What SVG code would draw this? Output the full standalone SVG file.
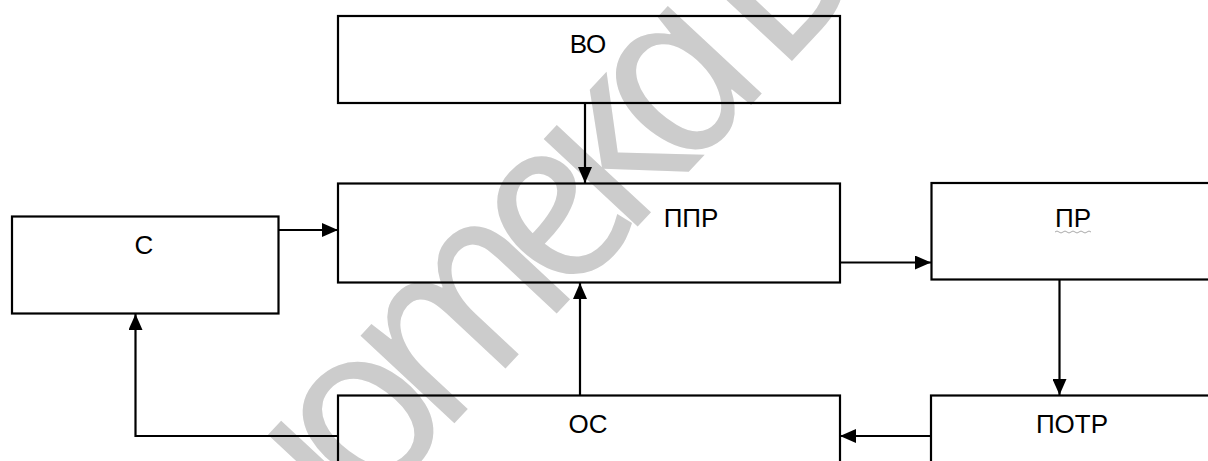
<svg xmlns="http://www.w3.org/2000/svg" width="1208" height="461" viewBox="0 0 1208 461">
  <style>
    .box { fill: none; stroke: #000; stroke-width: 2.2; }
    .lbl { font-family: "Liberation Sans", Arial, sans-serif; font-size: 26px; fill: #000; text-anchor: middle; }
    .edge { fill: none; stroke: #000; stroke-width: 2.2; }
    .wm { font-family: "Open Sans", "Liberation Sans", sans-serif; font-size: 240px; font-weight: 500; font-style: italic; letter-spacing: -30px; fill: #cccccc; }
  </style>
  <defs>
    <marker id="arrow" markerUnits="userSpaceOnUse" markerWidth="16" markerHeight="14" refX="16" refY="7" orient="auto">
      <path d="M0,0 L16,7 L0,14 z" fill="#000"/>
    </marker>
  </defs>

  <rect width="1208" height="461" fill="#fff"/>

  <!-- background watermark, italic letterforms set upright -->
  <g id="watermark" transform="translate(378,505) rotate(-47) skewX(12)">
    <text class="wm" x="0" y="0" text-anchor="end">Библи</text>
    <text class="wm" x="0" y="0">отека БГУИР</text>
  </g>

  <g id="node-vo">
    <rect class="box" x="338" y="16" width="502" height="87"/>
    <text class="lbl" x="588" y="53">ВО</text>
  </g>
  <g id="node-ppr">
    <rect class="box" x="338" y="183.5" width="502" height="99"/>
    <text class="lbl" x="691" y="227">ППР</text>
  </g>
  <g id="node-pr">
    <rect class="box" x="931.5" y="183" width="400" height="96.5"/>
    <text class="lbl" x="1073" y="227">ПР</text>
    <path d="M1055,232 q2,-2 4,0 t4,0 t4,0 t4,0 t4,0 t4,0 t4,0 t4,0 t4,0" fill="none" stroke="#aaa" stroke-width="1"/>
  </g>
  <g id="node-s">
    <rect class="box" x="12" y="216.5" width="266.5" height="97"/>
    <text class="lbl" x="144" y="254">С</text>
  </g>
  <g id="node-os">
    <rect class="box" x="338" y="395.5" width="502" height="200"/>
    <text class="lbl" x="588" y="433">ОС</text>
  </g>
  <g id="node-potr">
    <rect class="box" x="931" y="395.5" width="400" height="200"/>
    <text class="lbl" x="1072" y="433">ПОТР</text>
  </g>

  <g id="connectors">
    <path class="edge" d="M585,104 V183" marker-end="url(#arrow)"/>
    <path class="edge" d="M279,230 H338" marker-end="url(#arrow)"/>
    <path class="edge" d="M841,262.5 H931" marker-end="url(#arrow)"/>
    <path class="edge" d="M1059.5,280 V395" marker-end="url(#arrow)"/>
    <path class="edge" d="M931,436 H840" marker-end="url(#arrow)"/>
    <path class="edge" d="M580,395 V283" marker-end="url(#arrow)"/>
    <path class="edge" d="M338,436 H135.5 V314" marker-end="url(#arrow)"/>
  </g>
</svg>
